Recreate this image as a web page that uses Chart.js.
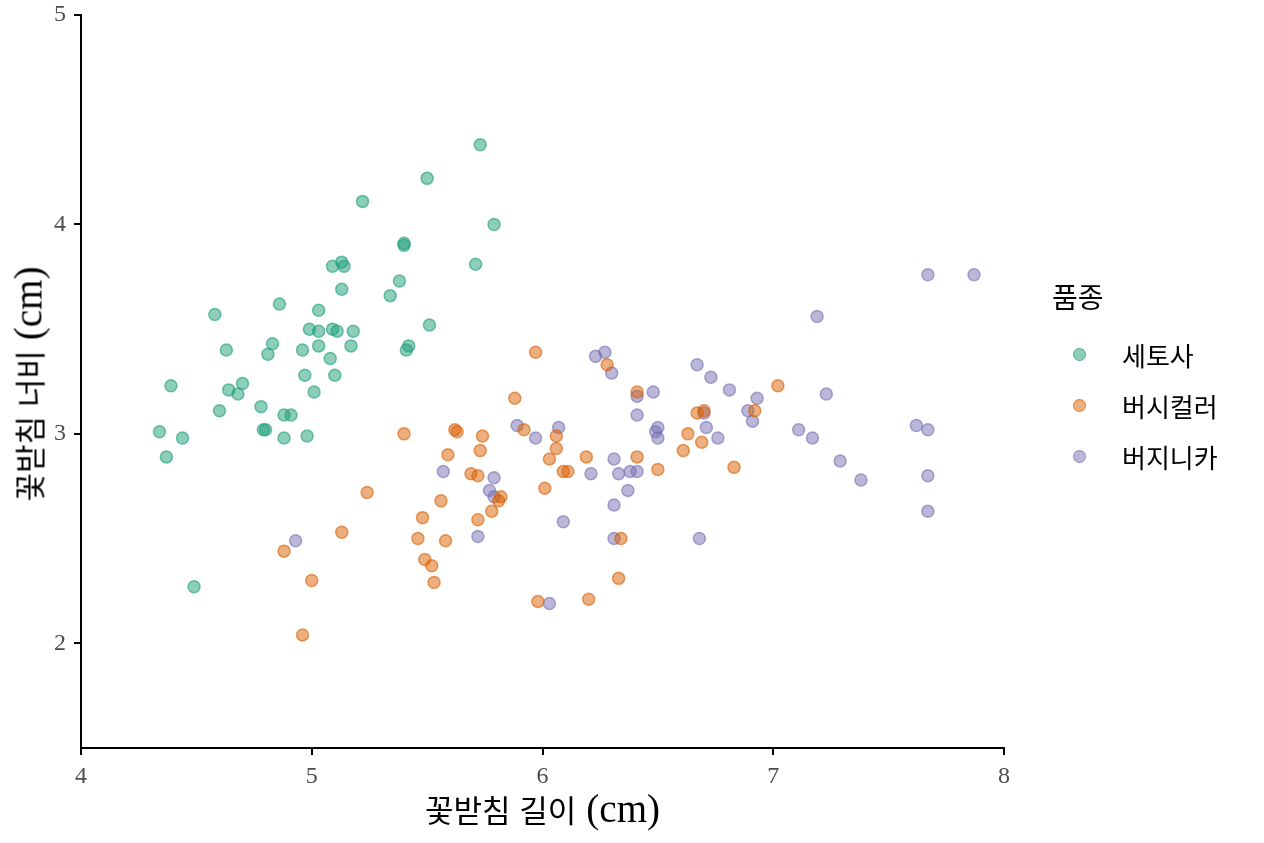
<!DOCTYPE html>
<html lang="ko">
<head>
<meta charset="utf-8">
<title>꽃받침 길이와 너비</title>
<script src="https://cdn.jsdelivr.net/npm/chart.js@4.4.1/dist/chart.umd.min.js"></script>
<style>
  html, body { margin: 0; padding: 0; background: #fff; }
  #wrap { position: relative; width: 1264px; height: 843px; }
  #legend { position: absolute; left: 1052px; top: 276px; font-family: 'Noto Sans CJK KR', sans-serif; color: #000; }
  #legend .title { font-size: 28px; line-height: 40px; margin-bottom: 13px; }
  #legend .item { position: relative; height: 51px; line-height: 51px; font-size: 26px; padding-left: 70px; }
  #legend .dot { position: absolute; left: 21px; top: 19px; width: 11px; height: 11px; border-radius: 50%; border: 1.5px solid; }
  .axis-title { position: absolute; white-space: nowrap; color: #000; line-height: 1; }
  .axis-title .ko { font-family: 'Noto Sans CJK KR', sans-serif; font-size: 31px; }
  .axis-title .unit { font-family: 'Liberation Serif', serif; font-size: 39px; margin-left: 10px; }
  #xTitle { transform: translate(-50%, -50%); }
  #yTitle { transform: translate(-50%, -50%) rotate(-90deg); }
</style>
</head>
<body>
<div id="wrap">
  <canvas id="irisChart" width="1264" height="843"></canvas>
  <div id="xTitle" class="axis-title"></div>
  <div id="yTitle" class="axis-title"></div>
  <div id="legend"></div>
</div>
<script>
// 품종 이름과 색상
const speciesNames = ['세토사', '버시컬러', '버지니카'];
const speciesColors = ['27, 158, 119', '217, 95, 2', '117, 112, 179'];

// 꽃받침 길이 / 너비 (cm), 그림에서 읽은 값
const setosaLength = [5.73, 5.50, 5.22, 5.79, 5.40, 5.40, 5.71, 5.13, 5.09, 5.14,
  5.13, 5.38, 5.34, 4.86, 5.03, 4.58, 5.51, 4.99, 5.03, 5.09,
  5.11, 5.18, 4.83, 4.81, 4.96, 5.03, 5.17, 5.42, 5.41, 4.63,
  5.08, 4.97, 5.10, 4.39, 4.64, 4.70, 4.68, 4.60, 4.78, 4.88,
  4.91, 4.79, 4.80, 4.88, 4.98, 5.01, 4.34, 4.44, 4.37, 4.49];
const setosaWidth = [4.38, 4.22, 4.11, 4.00, 3.91, 3.90, 3.81, 3.82, 3.80, 3.80,
  3.69, 3.73, 3.66, 3.62, 3.59, 3.57, 3.52, 3.50, 3.49, 3.50,
  3.49, 3.49, 3.43, 3.38, 3.40, 3.42, 3.42, 3.42, 3.40, 3.40,
  3.36, 3.28, 3.28, 3.23, 3.21, 3.24, 3.19, 3.11, 3.13, 3.09,
  3.09, 3.02, 3.02, 2.98, 2.99, 3.20, 3.01, 2.98, 2.89, 2.27];

const versicolorLength = [5.97, 6.28, 6.41, 5.88, 7.02, 6.67, 6.70, 6.92, 5.40, 5.62,
  5.63, 5.74, 5.92, 6.06, 5.73, 6.06, 5.59, 6.03, 6.19, 6.41,
  6.63, 6.69, 6.61, 6.09, 6.11, 6.50, 6.83, 5.69, 5.72, 6.01,
  5.24, 5.82, 5.81, 5.56, 5.78, 5.48, 5.72, 5.13, 5.46, 5.58,
  6.34, 4.88, 5.49, 5.52, 5.00, 5.53, 6.33, 5.98, 6.20, 4.96];
const versicolorWidth = [3.39, 3.33, 3.20, 3.17, 3.23, 3.10, 3.11, 3.11, 3.00, 3.02,
  3.01, 2.99, 3.02, 2.99, 2.92, 2.93, 2.90, 2.88, 2.89, 2.89,
  3.00, 2.96, 2.92, 2.82, 2.82, 2.83, 2.84, 2.81, 2.80, 2.74,
  2.72, 2.70, 2.68, 2.68, 2.63, 2.60, 2.59, 2.53, 2.50, 2.49,
  2.50, 2.44, 2.40, 2.37, 2.30, 2.29, 2.31, 2.20, 2.21, 2.04];

const virginicaLength = [7.67, 7.87, 7.19, 6.23, 6.27, 6.30, 6.67, 6.73, 6.81, 7.23,
  6.48, 6.41, 6.93, 6.89, 6.91, 6.70, 6.41, 6.71, 5.89, 6.07,
  6.50, 6.49, 6.50, 5.97, 6.76, 7.11, 7.17, 7.62, 7.67, 6.31,
  5.57, 5.79, 6.21, 6.33, 6.38, 6.41, 7.29, 7.38, 7.67, 5.77,
  5.79, 6.37, 6.31, 7.67, 5.72, 4.93, 6.09, 6.31, 6.68, 6.03];
const virginicaWidth = [3.76, 3.76, 3.56, 3.37, 3.39, 3.29, 3.33, 3.27, 3.21, 3.19,
  3.20, 3.18, 3.17, 3.11, 3.06, 3.10, 3.09, 3.03, 3.04, 3.03,
  3.03, 3.01, 2.98, 2.98, 2.98, 3.02, 2.98, 3.04, 3.02, 2.88,
  2.82, 2.79, 2.81, 2.81, 2.82, 2.82, 2.87, 2.78, 2.80, 2.73,
  2.70, 2.73, 2.66, 2.63, 2.51, 2.49, 2.58, 2.50, 2.50, 2.19];

// 축 눈금
const xTicks = [4, 5, 6, 7, 8];
const yTicks = [2, 3, 4, 5];

// 축 제목 (한글 부분 + 단위)
const xTitleText = ['꽃받침 길이', '(cm)'];
const yTitleText = ['꽃받침 너비', '(cm)'];

const seriesLength = [setosaLength, versicolorLength, virginicaLength];
const seriesWidth = [setosaWidth, versicolorWidth, virginicaWidth];

function toPoints(xs, ys) {
  return xs.map((x, i) => ({ x: x, y: ys[i] }));
}

const datasets = speciesNames.map((name, i) => ({
  label: name,
  data: toPoints(seriesLength[i], seriesWidth[i]),
  backgroundColor: `rgba(${speciesColors[i]}, 0.5)`,
  borderColor: `rgba(${speciesColors[i]}, 0.6)`,
  borderWidth: 1.5,
  pointRadius: 6,
  pointHoverRadius: 6
}));

const serif = "'Liberation Serif', serif";

const ctx = document.getElementById('irisChart').getContext('2d');
const irisChart = new Chart(ctx, {
  type: 'scatter',
  data: { datasets: datasets },
  options: {
    responsive: false,
    animation: false,
    layout: { padding: { top: 15, right: 260, bottom: 0, left: 0 } },
    plugins: {
      legend: { display: false },
      tooltip: { enabled: false }
    },
    scales: {
      x: {
        type: 'linear',
        min: 4,
        max: 8,
        afterBuildTicks: scale => { scale.ticks = xTicks.map(v => ({ value: v })); },
        afterFit: scale => {
          scale.height = 95;
          scale.paddingLeft = 0;
          scale.paddingRight = 0;
        },
        grid: { display: true, drawOnChartArea: false, drawTicks: true, tickLength: 7, color: '#000', lineWidth: 2 },
        border: { display: true, color: '#000', width: 2 },
        ticks: { color: '#4d4d4d', padding: 7, font: { family: serif, size: 24 } }
      },
      y: {
        type: 'linear',
        min: 1.5,
        max: 5,
        afterBuildTicks: scale => { scale.ticks = yTicks.map(v => ({ value: v })); },
        afterFit: scale => {
          scale.width = 81;
          scale.paddingTop = 0;
          scale.paddingBottom = 0;
        },
        grid: { display: true, drawOnChartArea: false, drawTicks: true, tickLength: 7, color: '#000', lineWidth: 2 },
        border: { display: true, color: '#000', width: 2 },
        ticks: { color: '#4d4d4d', padding: 8, font: { family: serif, size: 24 } }
      }
    }
  }
});

// 축 제목 배치 (차트 영역 중앙 기준)
const area = irisChart.chartArea;
const xTitle = document.getElementById('xTitle');
xTitle.innerHTML = `<span class="ko">${xTitleText[0]}</span><span class="unit">${xTitleText[1]}</span>`;
xTitle.style.left = ((area.left + area.right) / 2) + 'px';
xTitle.style.top = '808px';

const yTitle = document.getElementById('yTitle');
yTitle.innerHTML = `<span class="ko">${yTitleText[0]}</span><span class="unit">${yTitleText[1]}</span>`;
yTitle.style.left = '28px';
yTitle.style.top = ((area.top + area.bottom) / 2 + 2) + 'px';

// 범례
const legendDiv = document.getElementById('legend');
let legendHtml = '<div class="title">품종</div>';
speciesNames.forEach((name, i) => {
  legendHtml += `<div class="item"><span class="dot" style="background: rgba(${speciesColors[i]}, 0.5); border-color: rgba(${speciesColors[i]}, 0.6);"></span>${name}</div>`;
});
legendDiv.innerHTML = legendHtml;
</script>
</body>
</html>
